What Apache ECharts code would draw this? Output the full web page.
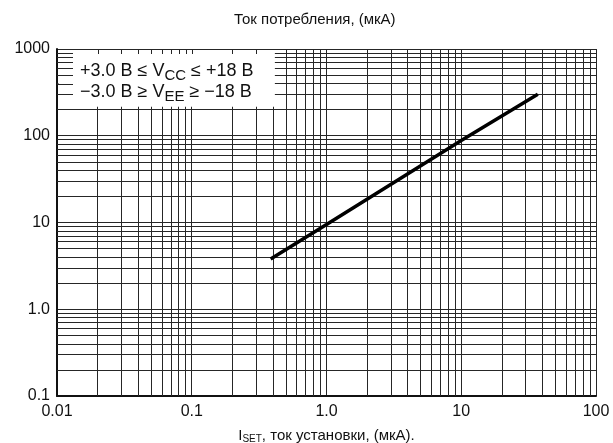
<!DOCTYPE html>
<html><head><meta charset="utf-8">
<script src="https://cdn.jsdelivr.net/npm/echarts@6/dist/echarts.min.js"></script>
<style>html,body{margin:0;padding:0;background:#fff}#c{width:613px;height:443px}</style>
</head><body><div id="c"></div>
<script>
// ---- data ----
var iSet = [0.385, 1, 10, 37];          // x values, µA
var iSupply = [3.8, 9.5, 88, 300];       // y values, µA
var xTickValues = [0.01, 0.1, 1, 10, 100];
var xTickLabels = ['0.01', '0.1', '1.0', '10', '100'];
var yTickValues = [0.1, 1, 10, 100, 1000];
var yTickLabels = ['0.1', '1.0', '10', '100', '1000'];
var xMinor = [0.02,0.03,0.04,0.05,0.06,0.07,0.08,0.09,0.2,0.3,0.4,0.5,0.6,0.7,0.8,0.9,2,3,4,5,6,7,8,9,20,30,40,50,60,70,80,90];
var yMinor = [0.2,0.3,0.4,0.5,0.6,0.7,0.8,0.9,2,3,4,5,6,7,8,9,20,30,40,50,60,70,80,90,200,300,400,500,600,700,800,900];
var boxLeftStubs = [300,400,500,600,700,800,900];
var boxTopStubs = [0.02,0.03,0.04,0.05,0.06,0.07,0.08,0.09,0.1,0.2,0.3];

function lab(vals, labs) {
  return function (v) {
    for (var i = 0; i < vals.length; i++) if (Math.abs(Math.log(v) / Math.LN10 - Math.log(vals[i]) / Math.LN10) < 1e-6) return labs[i];
    return '';
  };
}
var FONT = 'Liberation Sans';
var GRIDC = '#262626';
var chart = echarts.init(document.getElementById('c'), null, {renderer: 'canvas'});
var mlData = [];
xMinor.forEach(function (v) { mlData.push({xAxis: v}); });
yMinor.forEach(function (v) { mlData.push({yAxis: v}); });
var pts = iSet.map(function (x, i) { return [x, iSupply[i]]; });

chart.setOption({
  animation: false,
  backgroundColor: '#fff',
  title: {
    text: 'Ток потребления, (мкА)', left: 229, top: 7,
    textStyle: {fontFamily: FONT, fontSize: 15, fontWeight: 'normal', color: '#111'}
  },
  grid: {left: 57, right: 17, top: 49, bottom: 47, containLabel: false, outerBoundsMode: 'none'},
  xAxis: {
    type: 'log', logBase: 10, min: 0.01, max: 100,
    axisLine: {show: true, lineStyle: {color: '#111', width: 2}},
    axisTick: {show: false},
    axisLabel: {formatter: lab(xTickValues, xTickLabels), fontFamily: FONT, fontSize: 16, color: '#111', margin: 8},
    splitLine: {show: true, lineStyle: {color: GRIDC, width: 1}},
    name: '{i|I}{s|SET}{n|, ток установки, (мкА).}',
    nameLocation: 'middle', nameGap: 31,
    nameTextStyle: {
      rich: {
        i: {fontFamily: FONT, fontSize: 15, color: '#111'},
        s: {fontFamily: FONT, fontSize: 10, color: '#111', padding: [7, 0, 0, 0]},
        n: {fontFamily: FONT, fontSize: 15, color: '#111'}
      }
    }
  },
  yAxis: {
    type: 'log', logBase: 10, min: 0.1, max: 1000,
    axisLine: {show: true, lineStyle: {color: '#111', width: 2}},
    axisTick: {show: false},
    axisLabel: {formatter: lab(yTickValues, yTickLabels), fontFamily: FONT, fontSize: 16, color: '#111', margin: 7},
    splitLine: {show: true, lineStyle: {color: GRIDC, width: 1}}
  },
  series: [{
    type: 'line', data: pts, showSymbol: false, symbol: 'none',
    lineStyle: {color: '#000', width: 3.5}, z: 5,
    markLine: {
      silent: true, symbol: ['none', 'none'], label: {show: false},
      lineStyle: {color: GRIDC, width: 1, type: 'solid'},
      data: mlData
    }
  }]
});

// legend box drawn over the grid, positioned through the chart's own scales
(function () {
  var zr = chart.getZr();
  var G = echarts.graphic;
  var px = function (x) { return chart.convertToPixel({xAxisIndex: 0}, x); };
  var py = function (y) { return chart.convertToPixel({yAxisIndex: 0}, y); };
  var x0 = px(0.01), y0 = py(1000);
  zr.add(new G.Rect({z: 100, shape: {x: x0 + 1.5, y: y0 + 1, width: px(0.4) + 2 - x0 - 1.5, height: py(200) - 3 - y0 - 1}, style: {fill: '#ffffff'}}));
  boxLeftStubs.forEach(function (v) {
    var y = Math.round(py(v)) + 0.5;
    zr.add(new G.Line({z: 101, shape: {x1: x0, y1: y, x2: x0 + 16, y2: y}, style: {stroke: GRIDC, lineWidth: 1}}));
  });
  boxTopStubs.forEach(function (v) {
    var x = Math.round(px(v)) + 0.5;
    zr.add(new G.Line({z: 101, shape: {x1: x, y1: y0, x2: x, y2: y0 + 5}, style: {stroke: GRIDC, lineWidth: 1}}));
  });
  var richT = {s: {fontFamily: FONT, fontSize: 15, fill: '#111', padding: [9, 0, 0, 0]}};
  zr.add(new G.Text({z: 102, x: 80, y: 59, style: {text: '+3.0 B ≤ V{s|CC} ≤ +18 B', fontFamily: FONT, fontSize: 18, fill: '#111', rich: richT}}));
  zr.add(new G.Text({z: 102, x: 80, y: 80, style: {text: '−3.0 B ≥ V{s|EE} ≥ −18 B', fontFamily: FONT, fontSize: 18, fill: '#111', rich: richT}}));
})();
</script></body></html>
